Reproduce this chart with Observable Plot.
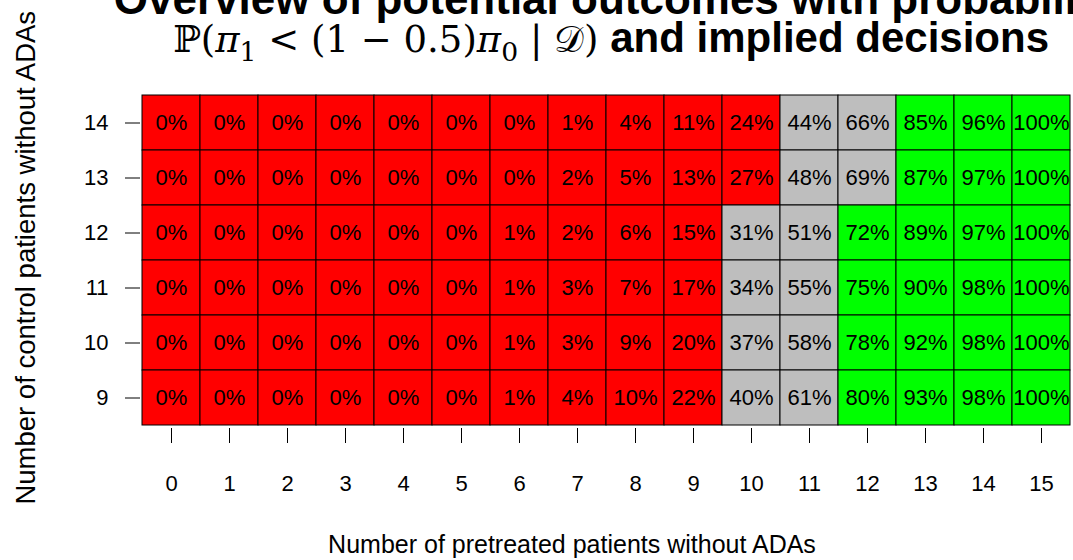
<!DOCTYPE html>
<html>
<head>
<meta charset="utf-8">
<script src="https://cdn.jsdelivr.net/npm/d3@7"></script>
<script src="https://cdn.jsdelivr.net/npm/@observablehq/plot@0.6"></script>
<style>
  html, body { margin: 0; padding: 0; background: #fff; overflow: hidden; }
  #wrap { position: relative; width: 1073px; height: 560px; overflow: hidden; font-family: "Liberation Sans", Arial, sans-serif; }
  #chart { position: absolute; left: 0; top: 0; }
  .abs { position: absolute; white-space: nowrap; line-height: 1; color: #000; }
  .math { font-family: "DejaVu Serif", "Liberation Serif", serif; font-weight: normal; font-size: 37px; }
  .math i { font-style: italic; }
  .math sub { font-size: 0.72em; vertical-align: -0.35em; line-height: 0; }
</style>
</head>
<body>
<div id="wrap">
  <div id="chart"></div>
  <div class="abs" id="t1" style="left:-385px; top:-23px; width:2000px; text-align:center; font-weight:bold; font-size:44px;">Overview of potential outcomes with probability</div>
  <div class="abs" id="t2" style="left:-389px; top:17px; width:2000px; text-align:center; font-size:42px;"><span class="math">ℙ(<i>π</i><sub>1</sub> &lt; (1 − 0.5)<i>π</i><sub>0</sub> | 𝒟)</span><b> and implied decisions</b></div>
  <div class="abs" id="xt" style="left:272px; top:532px; width:600px; text-align:center; font-size:25px;">Number of pretreated patients without ADAs</div>
  <div class="abs" id="yt" style="left:-274px; top:244px; width:600px; text-align:center; font-size:27.5px; transform: rotate(-90deg);">Number of control patients without ADAs</div>
</div>
<script>
// Number of pretreated patients without ADAs (columns)
const pretreated = [0, 1, 2, 3, 4, 5, 6, 7, 8, 9, 10, 11, 12, 13, 14, 15];
// Number of control patients without ADAs (rows, top to bottom)
const controls = [14, 13, 12, 11, 10, 9];
// Posterior probability (%) per row
const prob14 = [0, 0, 0, 0, 0, 0, 0, 1, 4, 11, 24, 44, 66, 85, 96, 100];
const prob13 = [0, 0, 0, 0, 0, 0, 0, 2, 5, 13, 27, 48, 69, 87, 97, 100];
const prob12 = [0, 0, 0, 0, 0, 0, 1, 2, 6, 15, 31, 51, 72, 89, 97, 100];
const prob11 = [0, 0, 0, 0, 0, 0, 1, 3, 7, 17, 34, 55, 75, 90, 98, 100];
const prob10 = [0, 0, 0, 0, 0, 0, 1, 3, 9, 20, 37, 58, 78, 92, 98, 100];
const prob9  = [0, 0, 0, 0, 0, 0, 1, 4, 10, 22, 40, 61, 80, 93, 98, 100];
// Decision thresholds (%) and colours
const lowerThreshold = 30;
const upperThreshold = 70;
const decisionColors = { stop: "#FF0000", consider: "#BEBEBE", go: "#00FF00" };

const probRows = [prob14, prob13, prob12, prob11, prob10, prob9];
const cells = [];
controls.forEach((c, i) => {
  pretreated.forEach((p, j) => {
    const v = probRows[i][j];
    const decision = v < lowerThreshold ? "stop" : (v >= upperThreshold ? "go" : "consider");
    cells.push({ pretreated: p, control: c, value: v, decision });
  });
});

const chart = Plot.plot({
  width: 1073,
  height: 560,
  marginLeft: 142,
  marginRight: 3,
  marginTop: 93,
  marginBottom: 134,
  style: { fontFamily: "'Liberation Sans', Arial, sans-serif", fontSize: "22px", color: "#000", background: "transparent" },
  x: { type: "band", domain: pretreated, padding: 0 },
  y: { type: "band", domain: controls, padding: 0 },
  color: { type: "ordinal", domain: Object.keys(decisionColors), range: Object.values(decisionColors) },
  marks: [
    Plot.cell(cells, { x: "pretreated", y: "control", fill: "decision", stroke: "#000", strokeWidth: 1 }),
    Plot.text(cells, { x: "pretreated", y: "control", text: d => d.value + "%", fill: "#000", fontSize: 22 }),
    Plot.axisX({ anchor: "bottom", tickSize: 15, tickPadding: 32, dy: 2, fontSize: 22, label: null, stroke: "#000" }),
    Plot.axisY({ anchor: "left", tickSize: 15, tickPadding: 17, dx: -2, fontSize: 22, label: null, stroke: "#000" })
  ]
});
document.getElementById("chart").appendChild(chart);
</script>
</body>
</html>
